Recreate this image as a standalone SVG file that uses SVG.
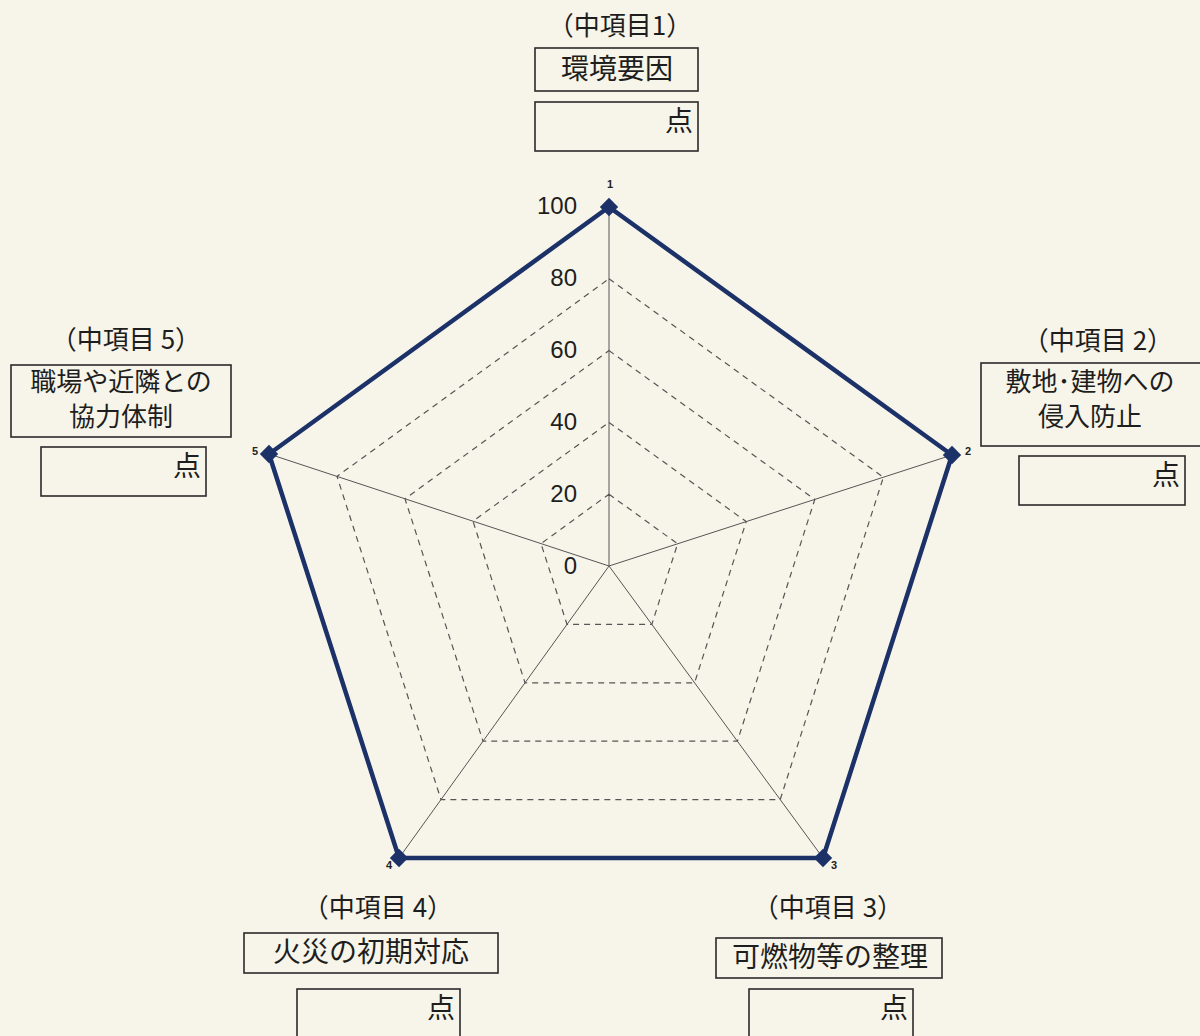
<svg xmlns="http://www.w3.org/2000/svg" width="1200" height="1036" viewBox="0 0 1200 1036">
<defs>
<style>
.bg{fill:#f7f5e9}
.box{fill:none;stroke:#2a2a2a;stroke-width:1.6}
.jp{font-family:"Noto Sans CJK JP","Noto Sans CJK SC",sans-serif;fill:#1e1e1e}
.hd{font-size:26px}
.lb{font-size:28px}
.lb2{font-size:26px}
.num{font-family:"Liberation Sans",Arial,sans-serif;font-size:24px;fill:#1e1e1e;text-anchor:end}
.vn{font-family:"Liberation Sans",Arial,sans-serif;font-size:11px;font-weight:bold;fill:#222;text-anchor:middle}
.axis{stroke:#555;stroke-width:1;fill:none}
.ring{stroke:#555;stroke-width:1.2;fill:none;stroke-dasharray:6 5}
.data{stroke:#1b3168;stroke-width:4.5;fill:none;stroke-linejoin:miter}
.mk{fill:#1b3168}
</style>
</defs>
<rect class="bg" x="0" y="0" width="1200" height="1036"/>

<g id="grid">
<polygon class="ring" points="609,494.2 677.6,543.8 651.8,624.4 567,624.4 541,543.6"/>
<polygon class="ring" points="609,422.4 746.2,521.6 694.6,682.8 525,682.8 473,521.2"/>
<polygon class="ring" points="609,350.6 814.8,499.4 737.4,741.2 483,741.2 405,498.8"/>
<polygon class="ring" points="609,278.8 883.4,477.2 780.2,799.6 441,799.6 337,476.4"/>
</g>

<g id="connectors">
<line class="axis" x1="609" y1="566" x2="609" y2="207"/>
<line class="axis" x1="609" y1="566" x2="952" y2="455"/>
<line class="axis" x1="609" y1="566" x2="823" y2="858"/>
<line class="axis" x1="609" y1="566" x2="399" y2="858"/>
<line class="axis" x1="609" y1="566" x2="269" y2="454"/>
</g>

<g id="scale">
<text class="num" x="577" y="214">100</text>
<text class="num" x="577" y="286">80</text>
<text class="num" x="577" y="358">60</text>
<text class="num" x="577" y="430">40</text>
<text class="num" x="577" y="502">20</text>
<text class="num" x="577" y="574">0</text>
</g>

<g id="data">
<polygon class="data" points="609,207 952,455 823,858 399,858 269,454"/>
<rect class="mk" x="-6.5" y="-6.5" width="13" height="13" transform="translate(609,207) rotate(45)"/>
<rect class="mk" x="-6.5" y="-6.5" width="13" height="13" transform="translate(952,455) rotate(45)"/>
<rect class="mk" x="-6.5" y="-6.5" width="13" height="13" transform="translate(823,858) rotate(45)"/>
<rect class="mk" x="-6.5" y="-6.5" width="13" height="13" transform="translate(399,858) rotate(45)"/>
<rect class="mk" x="-6.5" y="-6.5" width="13" height="13" transform="translate(269,454) rotate(45)"/>
<text class="vn" x="610" y="188">1</text>
<text class="vn" x="968" y="455">2</text>
<text class="vn" x="834" y="869">3</text>
<text class="vn" x="389" y="869">4</text>
<text class="vn" x="255" y="455">5</text>
</g>

<g id="item1">
<text class="jp hd" x="620" y="35" text-anchor="middle">（中項目1）</text>
<rect class="box" x="535" y="48" width="163" height="43"/>
<text class="jp lb" x="617" y="79" text-anchor="middle">環境要因</text>
<rect class="box" x="535" y="102" width="163" height="49"/>
<text class="jp lb" x="693" y="131" text-anchor="end">点</text>
</g>

<g id="item2">
<text class="jp hd" x="1098" y="350" text-anchor="middle">（中項目 2）</text>
<rect class="box" x="981" y="363" width="220" height="83"/>
<text class="jp lb2" x="1090" y="391" text-anchor="middle">敷地･建物への</text>
<text class="jp lb2" x="1090" y="426" text-anchor="middle">侵入防止</text>
<rect class="box" x="1019" y="456" width="166" height="49"/>
<text class="jp lb" x="1180" y="485" text-anchor="end">点</text>
</g>

<g id="item3">
<text class="jp hd" x="828" y="917" text-anchor="middle">（中項目 3）</text>
<rect class="box" x="716" y="938" width="226" height="40"/>
<text class="jp lb" x="830" y="967" text-anchor="middle">可燃物等の整理</text>
<rect class="box" x="749" y="989" width="164" height="60"/>
<text class="jp lb" x="908" y="1018" text-anchor="end">点</text>
</g>

<g id="item4">
<text class="jp hd" x="378" y="917" text-anchor="middle">（中項目 4）</text>
<rect class="box" x="244" y="933" width="254" height="40"/>
<text class="jp lb" x="371" y="962" text-anchor="middle">火災の初期対応</text>
<rect class="box" x="297" y="989" width="163" height="60"/>
<text class="jp lb" x="455" y="1018" text-anchor="end">点</text>
</g>

<g id="item5">
<text class="jp hd" x="126" y="349" text-anchor="middle">（中項目 5）</text>
<rect class="box" x="11" y="365" width="220" height="72"/>
<text class="jp lb2" x="121" y="391" text-anchor="middle">職場や近隣との</text>
<text class="jp lb2" x="121" y="426" text-anchor="middle">協力体制</text>
<rect class="box" x="41" y="447" width="165" height="49"/>
<text class="jp lb" x="201" y="476" text-anchor="end">点</text>
</g>
</svg>
